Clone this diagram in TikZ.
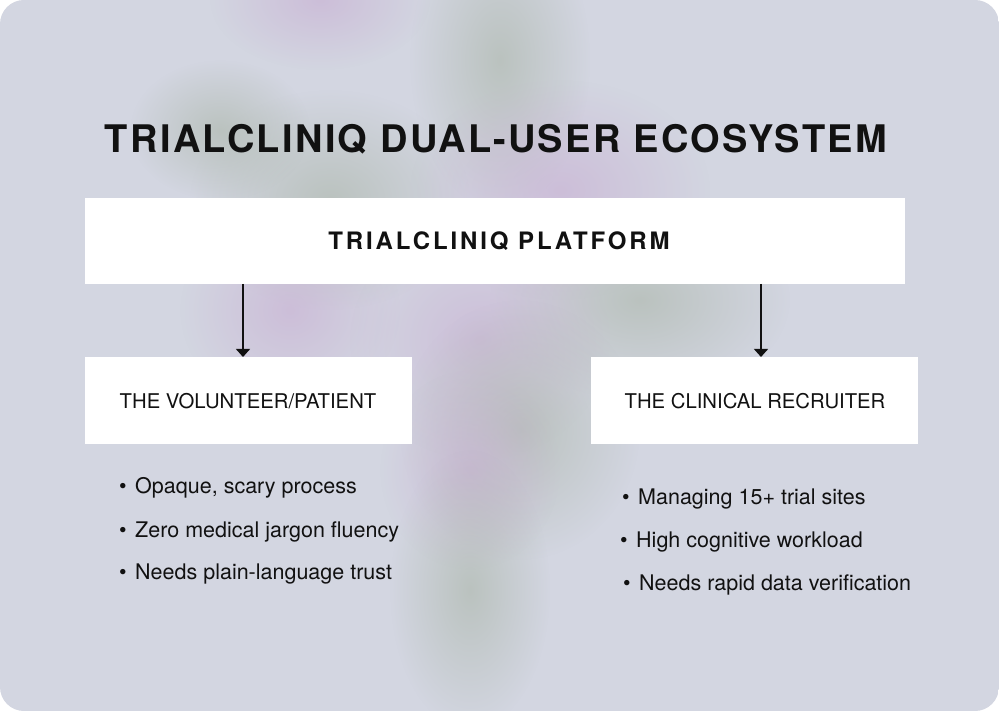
\documentclass[tikz,border=0pt]{standalone}
\usepackage{fontspec}
\setmainfont{TeX Gyre Heros}
\newfontfamily\titlefont[LetterSpace=6]{TeX Gyre Heros}
\newfontfamily\platfont[LetterSpace=12]{TeX Gyre Heros}
\usetikzlibrary{arrows.meta,fadings}
\definecolor{bgc}{HTML}{D3D6E1}
\definecolor{greenblob}{HTML}{AAB5A8}
\definecolor{purpleblob}{HTML}{C8AED3}
\definecolor{ink}{HTML}{111111}
\tikzfading[name=blobfade, inner color=transparent!0, outer color=transparent!100]
\tikzset{
  whitebox/.style={fill=white, draw=none},
  blob/.style={path fading=blobfade, opacity=0.6},
  conn/.style={draw=ink, line width=1.3pt, -{Triangle[width=14pt,length=8pt]}},
  bul/.style={anchor=base west, inner sep=0pt, text=ink, font=\fontsize{21.5}{24}\selectfont},
  lbl/.style={text=ink, font=\fontsize{20.3}{23}\selectfont, inner sep=0pt}
}
\newcommand{\bl}{\textbullet\hspace{8.5pt}}
\begin{document}
\begin{tikzpicture}[x=1pt,y=-1pt]
\useasboundingbox (0,0) rectangle (999,711);
\fill[white] (0,0) rectangle (999,711);
\begin{scope}
\clip[rounded corners=24pt] (0,0) rectangle (999,711);
\fill[bgc] (0,0) rectangle (999,711);
% soft blobs
\fill[purpleblob, blob] (320,0) ellipse (110 and 70);
\fill[greenblob, blob] (500,60) ellipse (90 and 150);
\fill[greenblob, blob] (330,200) ellipse (140 and 110);
\fill[purpleblob, blob] (560,190) ellipse (150 and 110);
\fill[purpleblob, blob] (290,310) ellipse (110 and 100);
\fill[greenblob, blob] (640,300) ellipse (150 and 100);
\fill[purpleblob, blob] (480,340) ellipse (130 and 120);
\fill[greenblob, blob] (520,430) ellipse (120 and 130);
\fill[purpleblob, blob] (470,470) ellipse (90 and 100);
\fill[greenblob, blob] (470,590) ellipse (80 and 140);
\fill[greenblob, blob] (220,130) ellipse (90 and 70);
\end{scope}

\node[text=ink, inner sep=0pt, font=\titlefont\bfseries\fontsize{38}{40}\selectfont] (title) at (496,139) {TRIALCLINIQ DUAL-USER ECOSYSTEM};

\path[whitebox] (85,198) rectangle (905,284);
\node[inner sep=0pt, minimum width=820pt, minimum height=86pt] (plat) at (495,241) {};
\node[text=ink, inner sep=0pt, font=\platfont\bfseries\fontsize{24}{27}\selectfont] (plattext) at (499,241) {TRIALCLINIQ PLATFORM};

\path[whitebox] (85,357) rectangle (412,444);
\node[inner sep=0pt, minimum width=327pt, minimum height=87pt] (vol) at (248.5,400.5) {};
\node[lbl] (voltext) at (248,401) {THE VOLUNTEER/PATIENT};

\path[whitebox] (591,357) rectangle (918,444);
\node[inner sep=0pt, minimum width=327pt, minimum height=87pt] (rec) at (754.5,400.5) {};
\node[lbl] (rectext) at (755,401) {THE CLINICAL RECRUITER};

\coordinate (a1s) at (243,284);
\coordinate (a1e) at (243,357);
\coordinate (a2s) at (761,284);
\coordinate (a2e) at (761,357);
\draw[conn] (a1s) -- (a1e);
\draw[conn] (a2s) -- (a2e);

\node[bul] (l1) at (119,493) {\bl Opaque, scary process};
\node[bul] (l2) at (119,537) {\bl Zero medical jargon fluency};
\node[bul] (l3) at (119,579) {\bl Needs plain-language trust};

\node[bul] (r1) at (622,504) {\bl Managing 15+ trial sites};
\node[bul] (r2) at (620,547) {\bl High cognitive workload};
\node[bul] (r3) at (623,590) {\bl Needs rapid data verification};
\end{tikzpicture}
\end{document}
